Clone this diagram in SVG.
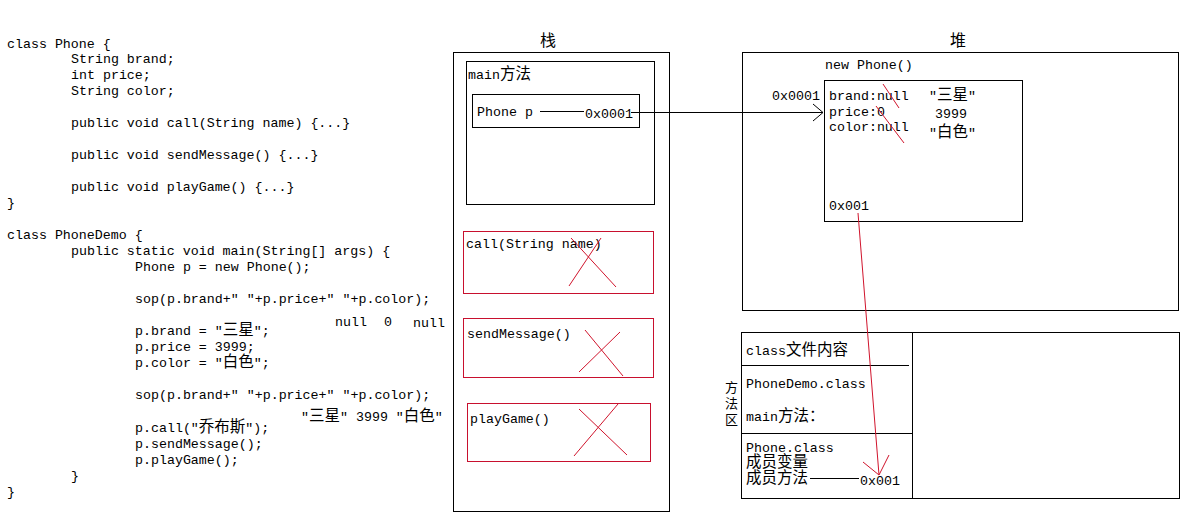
<svg xmlns="http://www.w3.org/2000/svg" width="1203" height="528" viewBox="0 0 1203 528">
<style>
text{font-family:"Liberation Mono","Noto Sans CJK SC",monospace;font-size:13.3px;fill:#000}
.c{font-size:15.5px}
.v{font-size:13px}
.t{font-size:16px}
.box{fill:none;stroke:#000;stroke-width:1}
.rbox{fill:none;stroke:#c8102e;stroke-width:1}
.red{stroke:#d0142c;stroke-width:1;fill:none}
.blk{stroke:#000;stroke-width:1;fill:none}
</style>
<rect width="1203" height="528" fill="#fff"/>
<g id="code" xml:space="preserve">
<text x="7" y="48">class Phone {</text>
<text x="71" y="63">String brand;</text>
<text x="71" y="79">int price;</text>
<text x="71" y="95">String color;</text>
<text x="71" y="127">public void call(String name) {...}</text>
<text x="71" y="159">public void sendMessage() {...}</text>
<text x="71" y="191">public void playGame() {...}</text>
<text x="7" y="207">}</text>
<text x="7" y="239">class PhoneDemo {</text>
<text x="71" y="255">public static void main(String[] args) {</text>
<text x="135" y="271">Phone p = new Phone();</text>
<text x="135" y="303">sop(p.brand+" "+p.price+" "+p.color);</text>
<text x="135" y="335">p.brand = "<tspan class="c">三星</tspan>";</text>
<text x="135" y="351">p.price = 3999;</text>
<text x="135" y="367">p.color = "<tspan class="c">白色</tspan>";</text>
<text x="135" y="399">sop(p.brand+" "+p.price+" "+p.color);</text>
<text x="135" y="432">p.call("<tspan class="c">乔布斯</tspan>");</text>
<text x="135" y="448">p.sendMessage();</text>
<text x="135" y="464">p.playGame();</text>
<text x="71" y="480">}</text>
<text x="7" y="496">}</text>
</g>
<g id="annotations">
<text x="335" y="326">null</text>
<text x="384" y="326">0</text>
<text x="413" y="327">null</text>
<text x="301" y="421">"<tspan class="c">三星</tspan>" 3999 "<tspan class="c">白色</tspan>"</text>
</g>
<g id="stack">
<text class="t" x="540" y="46">栈</text>
<rect class="box" x="453.5" y="52.5" width="216" height="459"/>
</g>
<g id="main-frame">
<rect class="box" x="466.5" y="61.5" width="188" height="143"/>
<text x="468" y="79">main<tspan class="c">方法</tspan></text>
</g>
<g id="phone-p">
<rect class="box" x="472.5" y="94.5" width="167" height="33"/>
<text x="477" y="116">Phone p</text>
<line class="blk" x1="540" y1="111.5" x2="584" y2="111.5"/>
<text x="585" y="118">0x0001</text>
</g>
<g id="call-frame">
<rect class="rbox" x="463.5" y="231.5" width="190" height="62"/>
<text x="466" y="248">call(String name)</text>
<line class="red" x1="571" y1="238" x2="616" y2="287"/>
<line class="red" x1="601" y1="238" x2="569" y2="286"/>
</g>
<g id="send-frame">
<rect class="rbox" x="463.5" y="318.5" width="190" height="59"/>
<text x="467" y="338">sendMessage()</text>
<line class="red" x1="585" y1="330" x2="623" y2="376"/>
<line class="red" x1="620" y1="332" x2="579" y2="372"/>
</g>
<g id="play-frame">
<rect class="rbox" x="467.5" y="403.5" width="183" height="58"/>
<text x="470" y="423">playGame()</text>
<line class="red" x1="579" y1="409" x2="627" y2="455"/>
<line class="red" x1="618" y1="404" x2="574" y2="456"/>
</g>
<g id="heap">
<text class="t" x="950" y="46">堆</text>
<rect class="box" x="742.5" y="52.5" width="436" height="258"/>
<text x="825" y="69">new Phone()</text>
<text x="772" y="100">0x0001</text>
</g>
<g id="phone-object">
<rect class="box" x="824.5" y="80.5" width="198" height="141"/>
<text x="829" y="100">brand:null</text>
<text x="829" y="116">price:0</text>
<text x="829" y="131">color:null</text>
<text x="929" y="100">"<tspan class="c">三星</tspan>"</text>
<text x="935" y="118">3999</text>
<text x="929" y="137">"<tspan class="c">白色</tspan>"</text>
<text x="829" y="210">0x001</text>
<line class="red" x1="883" y1="84" x2="899" y2="108"/>
<line class="red" x1="876" y1="106" x2="904" y2="143"/>
</g>
<g id="method-area">
<text class="v" x="725" y="392">方</text>
<text class="v" x="725" y="408">法</text>
<text class="v" x="725" y="424">区</text>
<rect class="box" x="741.5" y="332.5" width="438" height="166"/>
<line class="blk" x1="912.5" y1="332" x2="912.5" y2="499"/>
<line class="blk" x1="742" y1="365.5" x2="909" y2="365.5"/>
<line class="blk" x1="742" y1="433.5" x2="912" y2="433.5"/>
<text x="746" y="355">class<tspan class="c">文件内容</tspan></text>
<text x="746" y="388">PhoneDemo.class</text>
<text x="746" y="421">main<tspan class="c">方法：</tspan></text>
<text x="746" y="452">Phone.class</text>
<text class="c" x="746" y="467">成员变量</text>
<text class="c" x="746" y="483">成员方法</text>
<line class="blk" x1="810" y1="478.5" x2="859" y2="478.5"/>
<text x="860" y="485">0x001</text>
</g>
<g id="connectors">
<line class="blk" x1="631" y1="112.5" x2="823" y2="112.5"/>
<polyline class="blk" points="813,104 823,112.5 813,121"/>
<line class="red" x1="858" y1="213" x2="879" y2="475"/>
<polyline class="red" points="863,462 879,475 889,455"/>
</g>
</svg>
